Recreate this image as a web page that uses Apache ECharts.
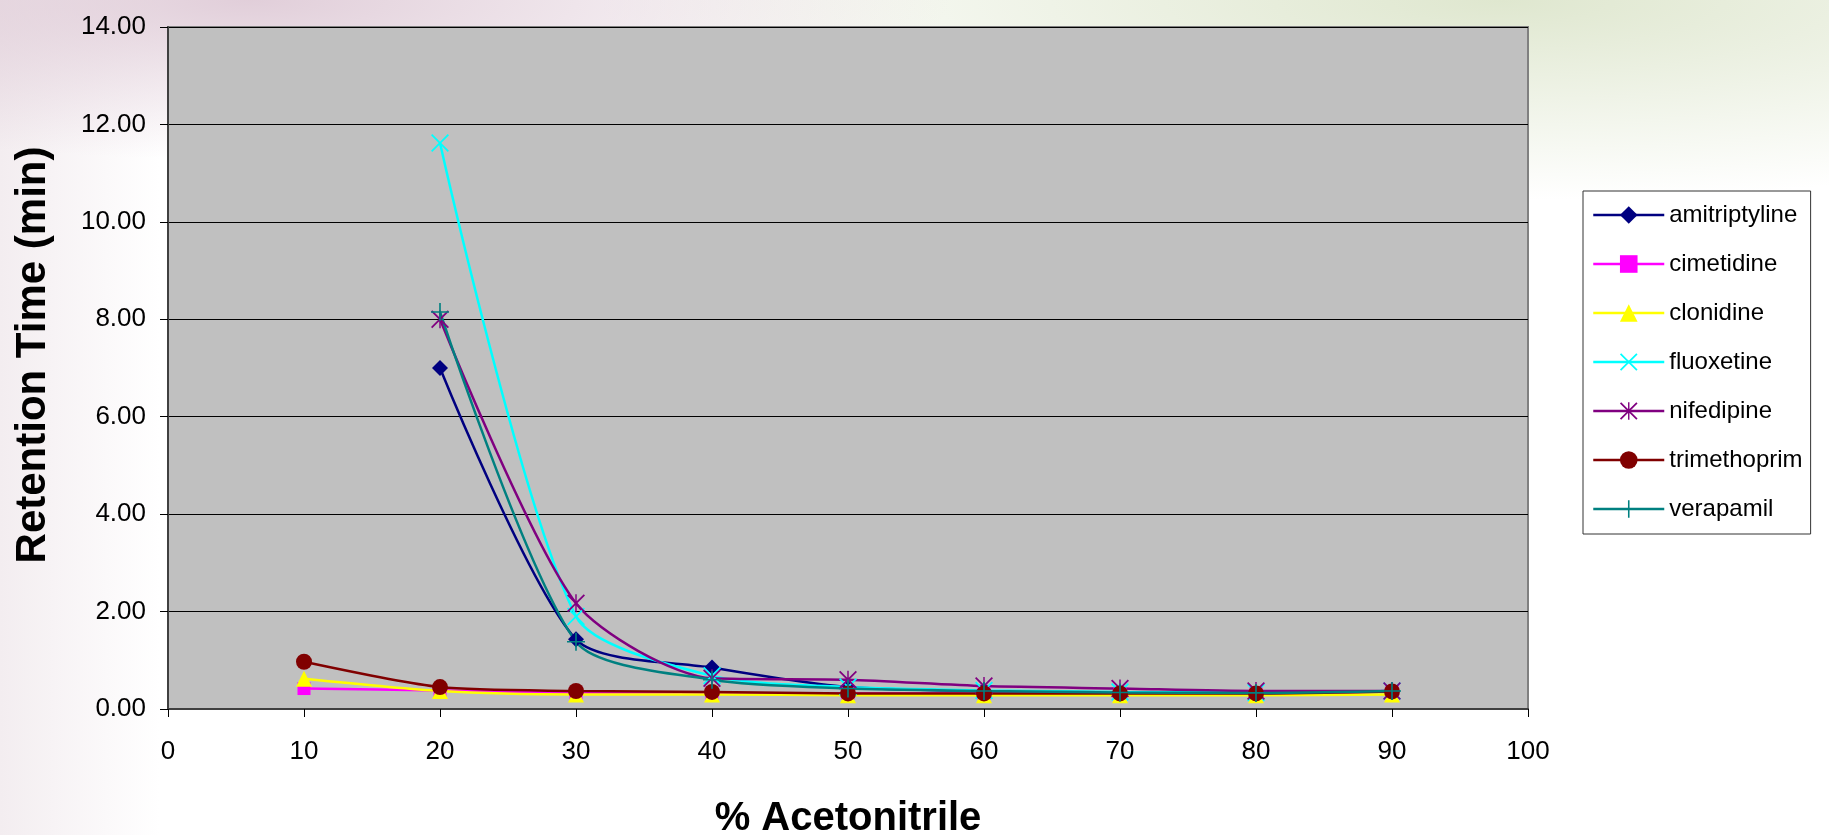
<!DOCTYPE html>
<html>
<head>
<meta charset="utf-8">
<script src="https://cdn.jsdelivr.net/npm/echarts@6/dist/echarts.min.js"></script>
<style>
html,body{margin:0;padding:0;width:1829px;height:835px;overflow:hidden;}
body{background:
 radial-gradient(ellipse 700px 160px at 250px 0px, rgba(215,190,205,0.75), rgba(255,255,255,0) 100%),
 radial-gradient(ellipse 900px 200px at 1500px 0px, rgba(215,225,195,0.8), rgba(255,255,255,0) 100%),
 linear-gradient(to right, rgba(235,225,230,0.6) 0px, rgba(255,255,255,0) 160px),
 #ffffff;}
#chart{width:1829px;height:835px;}
</style>
</head>
<body>
<div id="chart"></div>
<script>
// ---- data ----
const xTicks = [0,10,20,30,40,50,60,70,80,90,100];
const yTicks = [0,2,4,6,8,10,12,14];
const seriesNames = ['amitriptyline','cimetidine','clonidine','fluoxetine','nifedipine','trimethoprim','verapamil'];
const xFrom20 = [20,30,40,50,60,70,80,90];
const xFrom10 = [10,20,30,40,50,60,70,80,90];
const amitriptyline = [7.00,1.43,0.85,0.45,0.37,0.34,0.33,0.37];
const cimetidine    = [0.42,0.38,0.33,0.32,0.32,0.32,0.32,0.33,0.36];
const clonidine     = [0.62,0.37,0.30,0.30,0.28,0.28,0.28,0.28,0.30];
const fluoxetine    = [11.62,1.90,0.68,0.45,0.38,0.35,0.34,0.37];
const nifedipine    = [8.00,2.17,0.63,0.60,0.47,0.42,0.37,0.37];
const trimethoprim  = [0.97,0.45,0.37,0.35,0.32,0.32,0.32,0.32,0.36];
const verapamil     = [8.15,1.38,0.60,0.42,0.37,0.34,0.33,0.37];

const colors = ['#000080','#FF00FF','#FFFF00','#00FFFF','#800080','#800000','#008080'];
const X_PATH = 'path://M0,1.4L1.4,0L20,18.6L18.6,20Z M18.6,0L20,1.4L1.4,20L0,18.6Z';
const AST_PATH = 'path://M0,1.4L1.4,0L20,18.6L18.6,20Z M18.6,0L20,1.4L1.4,20L0,18.6Z M9.2,0h1.6v20h-1.6z';
const PLUS_PATH = 'path://M9.1,0h1.8v20h-1.8z M0,9.1h20v1.8h-20z';
const symbols = ['diamond','rect','triangle',X_PATH,AST_PATH,'circle',PLUS_PATH];
const sizes = [16,13,16,18,18,16,18];
const valuesList = [amitriptyline,cimetidine,clonidine,fluoxetine,nifedipine,trimethoprim,verapamil];
const xsList = [xFrom20,xFrom10,xFrom10,xFrom20,xFrom20,xFrom10,xFrom20];

const FONT = 'Liberation Sans, Arial, sans-serif';

const series = seriesNames.map((name,i)=>({
  name: name,
  type: 'line',
  smooth: 0.25,
  data: xsList[i].map((x,j)=>[x, valuesList[i][j]]),
  symbol: symbols[i],
  symbolSize: sizes[i],
  showAllSymbol: true,
  lineStyle: {color: colors[i], width: 2.5},
  itemStyle: {color: colors[i], borderWidth: 0},
  emphasis: {disabled: true},
  animation: false
}));

const chart = echarts.init(document.getElementById('chart'), null, {renderer:'canvas'});
chart.setOption({
  animation: false,
  grid: {left:168, right:301, top:27, bottom:126, containLabel:false, outerBoundsMode:'none',
         show:true, backgroundColor:'#C0C0C0', borderColor:'#808080', borderWidth:2},
  legend: {
    orient:'vertical', left:1583, top:191,
    data: seriesNames,
    itemWidth:71, itemHeight:22, itemGap:25,
    padding:[12,8,13,9],
    backgroundColor:'#ffffff', borderColor:'#333333', borderWidth:1, borderRadius:0,
    lineStyle:{width:2.5},
    textStyle:{fontFamily:FONT, fontSize:24, lineHeight:24, color:'#000'}
  },
  xAxis: {
    type:'value', min:xTicks[0], max:xTicks[xTicks.length-1], interval:10,
    name:'% Acetonitrile', nameLocation:'middle', nameGap:90,
    nameTextStyle:{fontFamily:FONT, fontSize:40, fontWeight:'bold', color:'#000'},
    axisLine:{show:true, onZero:false, lineStyle:{color:'#404040', width:2}},
    axisTick:{show:true, inside:false, length:8, lineStyle:{color:'#000', width:1}},
    axisLabel:{margin:30, fontFamily:FONT, fontSize:26, color:'#000'},
    splitLine:{show:false}
  },
  yAxis: {
    type:'value', min:yTicks[0], max:yTicks[yTicks.length-1], interval:2,
    name:'Retention Time (min)', nameLocation:'middle', nameGap:114, nameRotate:90,
    nameTextStyle:{fontFamily:FONT, fontSize:42, fontWeight:'bold', color:'#000', padding:[0,0,0,26]},
    axisLine:{show:true, lineStyle:{color:'#404040', width:2}},
    axisTick:{show:true, inside:false, length:8, lineStyle:{color:'#000', width:1}},
    axisLabel:{margin:22, fontFamily:FONT, fontSize:26, color:'#000', formatter:(v)=>v.toFixed(2)},
    splitLine:{show:true, lineStyle:{color:'#000', width:1}}
  },
  series: series
});
</script>
</body>
</html>
